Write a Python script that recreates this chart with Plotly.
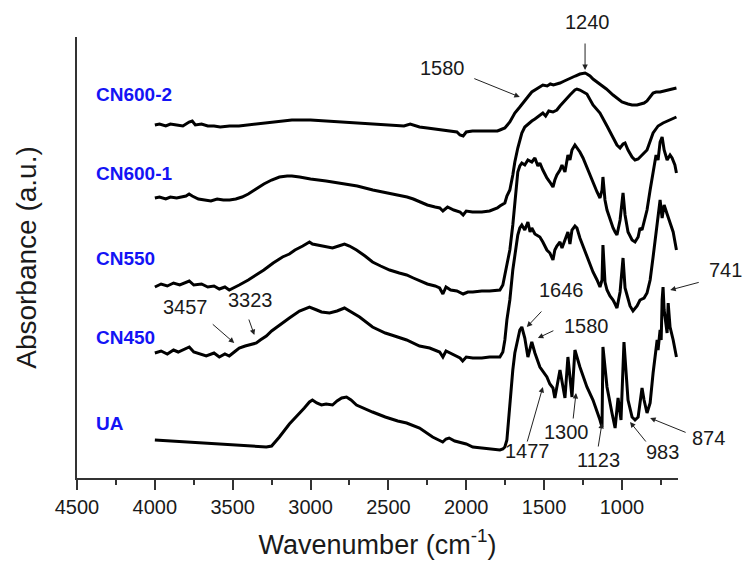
import plotly.graph_objects as go

# ---------------- data (wavenumber in cm^-1, absorbance in a.u., offset-stacked) ----------------
cn600_2_w = [4000,3970,3930,3900,3860,3820,3780,3760,3740,3700,3660,3620,3580,3520,3460,3400,3300,3200,3120,3000,
             2900,2800,2700,2610,2500,2400,2360,2340,2300,2250,2200,2150,2100,2060,2040,2020,2000,1960,1900,1850,
             1800,1784,1752,1720,1688,1656,1624,1600,1579,1560,1530,1508,1480,1460,1440,1418,1398,1370,1334,1300,
             1270,1250,1237,1225,1205,1186,1160,1141,1100,1057,1032,1000,961,935,903,884,858,839,819,800,
             781,755,729,703,678,650]
cn600_2_a = [3.53,3.54,3.52,3.54,3.53,3.52,3.56,3.57,3.53,3.54,3.52,3.52,3.51,3.52,3.52,3.53,3.55,3.57,3.58,3.58,
             3.57,3.56,3.55,3.54,3.53,3.52,3.54,3.53,3.51,3.50,3.49,3.48,3.47,3.46,3.43,3.42,3.46,3.47,3.47,3.47,
             3.47,3.48,3.50,3.56,3.65,3.71,3.78,3.82,3.86,3.88,3.91,3.93,3.92,3.94,3.93,3.94,3.95,3.97,4.00,4.02,
             4.04,4.05,4.05,4.04,4.02,3.99,3.96,3.94,3.89,3.83,3.80,3.76,3.74,3.73,3.73,3.74,3.75,3.77,3.81,3.85,
             3.86,3.86,3.87,3.88,3.89,3.90]

cn600_1_w = [4000,3970,3930,3900,3860,3800,3780,3760,3720,3680,3640,3600,3560,3520,3480,3440,3400,3350,3300,3250,
             3200,3150,3120,3070,3000,2900,2820,2700,2600,2500,2400,2380,2340,2300,2250,2200,2170,2150,2120,2080,
             2040,2020,2000,1960,1900,1850,1800,1784,1765,1752,1739,1720,1701,1688,1669,1656,1643,1624,1604,1579,
             1559,1527,1508,1490,1470,1443,1418,1398,1366,1334,1302,1289,1270,1250,1225,1186,1141,1096,1057,1032,
             1012,993,980,961,935,916,896,871,839,800,768,736,703,678,650]
cn600_1_a = [2.80,2.81,2.79,2.81,2.80,2.82,2.84,2.82,2.79,2.78,2.77,2.79,2.78,2.78,2.79,2.81,2.84,2.89,2.94,2.98,
             3.01,3.02,3.02,3.01,2.99,2.97,2.95,2.92,2.88,2.85,2.82,2.81,2.79,2.76,2.73,2.71,2.70,2.67,2.71,2.68,
             2.66,2.63,2.67,2.66,2.66,2.67,2.70,2.72,2.74,2.75,2.82,2.88,3.03,3.16,3.30,3.38,3.45,3.51,3.54,3.57,
             3.59,3.63,3.65,3.62,3.67,3.66,3.68,3.72,3.78,3.83,3.88,3.89,3.88,3.86,3.84,3.73,3.65,3.52,3.41,3.33,
             3.30,3.34,3.35,3.28,3.21,3.18,3.19,3.23,3.28,3.45,3.52,3.55,3.57,3.59,3.61]

cn550_w = [4000,3960,3920,3880,3840,3800,3779,3750,3700,3660,3620,3586,3550,3522,3480,3458,3400,3348,3300,3240,
           3180,3136,3100,3050,3007,2988,2950,2900,2859,2820,2782,2750,2705,2650,2602,2550,2492,2430,2383,2340,
           2300,2250,2200,2171,2150,2130,2100,2060,2020,1990,1958,1900,1850,1784,1765,1752,1739,1720,1701,1688,
           1669,1656,1643,1624,1604,1579,1559,1540,1527,1508,1482,1463,1443,1431,1418,1398,1385,1366,1347,1334,
           1321,1302,1289,1270,1250,1225,1205,1186,1160,1141,1128,1122,1109,1096,1077,1057,1044,1032,1012,993,
           980,961,935,916,896,884,871,858,839,819,800,781,768,755,742,729,710,691,678,660,650]
cn550_a = [1.91,1.94,1.92,1.95,1.93,1.96,1.97,1.93,1.94,1.91,1.92,1.89,1.91,1.88,1.91,1.93,1.98,2.03,2.08,2.15,
           2.21,2.24,2.28,2.32,2.36,2.34,2.33,2.31,2.30,2.32,2.34,2.32,2.28,2.22,2.16,2.12,2.08,2.05,2.03,2.00,
           1.97,1.94,1.92,1.90,1.84,1.91,1.88,1.87,1.84,1.86,1.86,1.87,1.87,1.88,1.93,2.03,2.16,2.28,2.53,2.78,
           3.06,3.12,3.15,3.13,3.18,3.16,3.20,3.12,3.15,3.08,3.00,2.96,2.91,2.98,3.03,3.08,3.13,3.06,3.23,3.18,
           3.28,3.33,3.30,3.26,3.20,3.10,3.02,2.95,2.86,2.80,2.88,3.01,2.78,2.68,2.58,2.50,2.46,2.43,2.58,2.85,
           2.63,2.46,2.38,2.36,2.41,2.50,2.48,2.56,2.68,2.88,3.08,3.23,3.18,3.36,3.41,3.28,3.18,3.23,3.20,3.13,3.05]

cn450_w = [4000,3960,3920,3880,3850,3800,3779,3750,3715,3670,3620,3586,3550,3522,3490,3458,3420,3348,3323,3284,
           3250,3200,3136,3071,3007,2960,2930,2878,2830,2782,2740,2685,2602,2520,2480,2383,2300,2235,2171,2150,
           2130,2080,2040,2023,2000,1958,1900,1850,1784,1765,1752,1739,1720,1701,1688,1669,1656,1643,1624,1604,
           1590,1579,1559,1527,1508,1482,1463,1443,1431,1418,1398,1385,1366,1347,1334,1321,1302,1289,1270,1250,
           1225,1205,1186,1160,1141,1128,1122,1109,1096,1077,1057,1044,1032,1012,993,980,961,948,929,903,
           884,858,839,819,800,781,768,755,742,729,710,691,671,650]
cn450_a = [1.25,1.27,1.24,1.28,1.26,1.29,1.31,1.26,1.24,1.22,1.25,1.21,1.24,1.22,1.26,1.30,1.32,1.35,1.38,1.42,
           1.47,1.53,1.60,1.67,1.71,1.68,1.66,1.65,1.67,1.70,1.66,1.61,1.51,1.45,1.43,1.38,1.32,1.30,1.26,1.21,
           1.27,1.23,1.20,1.17,1.21,1.20,1.20,1.21,1.21,1.26,1.38,1.58,1.78,2.08,2.23,2.43,2.50,2.53,2.48,2.56,
           2.46,2.50,2.44,2.41,2.36,2.28,2.25,2.18,2.28,2.32,2.36,2.30,2.38,2.46,2.34,2.48,2.52,2.50,2.40,2.32,
           2.20,2.14,2.06,1.98,1.91,1.98,2.33,1.96,1.88,1.82,1.78,1.74,1.70,1.86,2.20,1.90,1.78,1.72,1.67,1.72,
           1.78,1.80,1.85,1.98,2.21,2.46,2.63,2.78,2.60,2.73,2.64,2.56,2.46,2.28]

ua_w = [4000,3900,3800,3670,3500,3400,3284,3250,3200,3136,3100,3071,3040,3007,2988,2960,2930,2900,2859,2830,
        2800,2769,2740,2705,2650,2602,2520,2440,2383,2300,2216,2180,2151,2130,2110,2074,2000,1958,1900,1850,
        1784,1765,1752,1739,1720,1701,1688,1669,1656,1643,1624,1604,1590,1579,1559,1527,1482,1463,1443,1431,
        1398,1366,1347,1321,1302,1270,1225,1186,1141,1128,1122,1096,1064,1044,1025,1006,987,961,935,916,
        896,871,858,839,819,800,774,768,755,748,742,736,729,710,703,691,671,658,650]
ua_a = [0.38,0.37,0.36,0.35,0.33,0.32,0.31,0.32,0.41,0.54,0.60,0.64,0.70,0.76,0.78,0.75,0.73,0.74,0.73,0.77,
        0.80,0.81,0.78,0.73,0.69,0.66,0.61,0.57,0.55,0.50,0.41,0.38,0.36,0.39,0.40,0.37,0.34,0.31,0.30,0.29,
        0.28,0.29,0.31,0.38,0.75,1.08,1.25,1.40,1.48,1.51,1.40,1.21,1.30,1.36,1.25,1.11,1.01,0.94,0.90,0.80,
        1.08,0.80,1.21,0.81,1.28,1.11,0.91,0.78,0.58,0.51,1.31,0.91,0.65,0.50,0.80,0.58,1.36,0.78,0.61,0.58,
        0.61,0.90,0.78,0.65,0.75,1.05,1.38,1.28,1.48,1.38,1.78,1.91,1.68,1.45,1.75,1.51,1.38,1.25,1.21]

series_names = ["CN600-2", "CN600-1", "CN550", "CN450", "UA"]
series_w = [cn600_2_w, cn600_1_w, cn550_w, cn450_w, ua_w]
series_a = [cn600_2_a, cn600_1_a, cn550_a, cn450_a, ua_a]
name_label_w = 4390
name_label_a = [3.84, 3.05, 2.20, 1.41, 0.55]

# peak annotations: label, wavenumber of arrow tip, absorbance of arrow tip
peak_labels = ["1240", "1580", "3457", "3323", "1646", "1580", "1477", "1300", "1123", "983", "874", "741"]
peak_tip_w  = [1237, 1656, 3490, 3361, 1611, 1540, 1508, 1295, 1128, 948, 819, 690]
peak_tip_a  = [4.08, 3.81, 1.35, 1.43, 1.51, 1.40, 0.91, 0.85, 0.55, 0.56, 0.60, 1.88]
# styling offsets in px: arrow tail (dx, dy) and text shift (dx, dy up)
arrow_tail = [(0,-28), (-47,-19), (-23,-20), (-6,-17), (16,-17), (17,-8), (-16,56), (-3,27), (-4,25), (17,21), (37,15), (30,-8)]
text_shift = [(2,48), (-77,29), (-49,36), (-4,35), (35,37), (49,12), (-15,-64), (-10,-39), (-4,-37), (32,-30), (58,-20), (55,20)]

FONT = "Liberation Sans, Arial, sans-serif"

fig = go.Figure()
for w, a, n in zip(series_w, series_a, series_names):
    assert len(w) == len(a), n
    fig.add_trace(go.Scatter(x=w, y=a, mode="lines", name=n,
                             line=dict(color="black", width=3), showlegend=False))

annotations = []
for n, ya in zip(series_names, name_label_a):
    annotations.append(dict(x=name_label_w, y=ya, xref="x", yref="y", text="<b>%s</b>" % n,
                            showarrow=False, xanchor="left", yanchor="middle",
                            font=dict(family=FONT, size=19, color="#1414f5")))
for lab, tw, ta, (adx, ady), (tdx, tdy) in zip(peak_labels, peak_tip_w, peak_tip_a, arrow_tail, text_shift):
    annotations.append(dict(x=tw, y=ta, xref="x", yref="y", text="", showarrow=True,
                            ax=adx, ay=ady, axref="pixel", ayref="pixel",
                            arrowhead=2, arrowsize=1.1, arrowwidth=1, arrowcolor="#222", standoff=0, startstandoff=0))
    annotations.append(dict(x=tw, y=ta, xref="x", yref="y", text=lab, showarrow=False,
                            xshift=tdx, yshift=tdy, xanchor="center", yanchor="middle",
                            font=dict(family=FONT, size=20, color="#1a1a1a")))

fig.update_layout(
    width=744, height=569,
    margin=dict(l=77, r=66, t=37, b=91),
    paper_bgcolor="white", plot_bgcolor="white",
    font=dict(family=FONT, color="#1a1a1a"),
    annotations=annotations,
    xaxis=dict(range=[4500, 640], tick0=0, dtick=500, ticks="outside", ticklen=10, tickwidth=1.5,
               tickcolor="#333", showline=True, linecolor="#333", linewidth=1.5, showgrid=False, zeroline=False,
               tickfont=dict(size=20, family=FONT, color="#1a1a1a"),
               minor=dict(dtick=250, ticks="outside", ticklen=5, tickwidth=1.5, tickcolor="#333", showgrid=False),
               title=dict(text="Wavenumber (cm<sup>-1</sup>)", font=dict(size=27, family=FONT, color="#1a1a1a"), standoff=18)),
    yaxis=dict(range=[0, 4.41], showline=True, linecolor="#333", linewidth=1.5, showticklabels=False,
               ticks="", showgrid=False, zeroline=False,
               title=dict(text="Absorbance (a.u.)", font=dict(size=28, family=FONT, color="#1a1a1a"), standoff=30)),
)

fig.write_html("out.html")
